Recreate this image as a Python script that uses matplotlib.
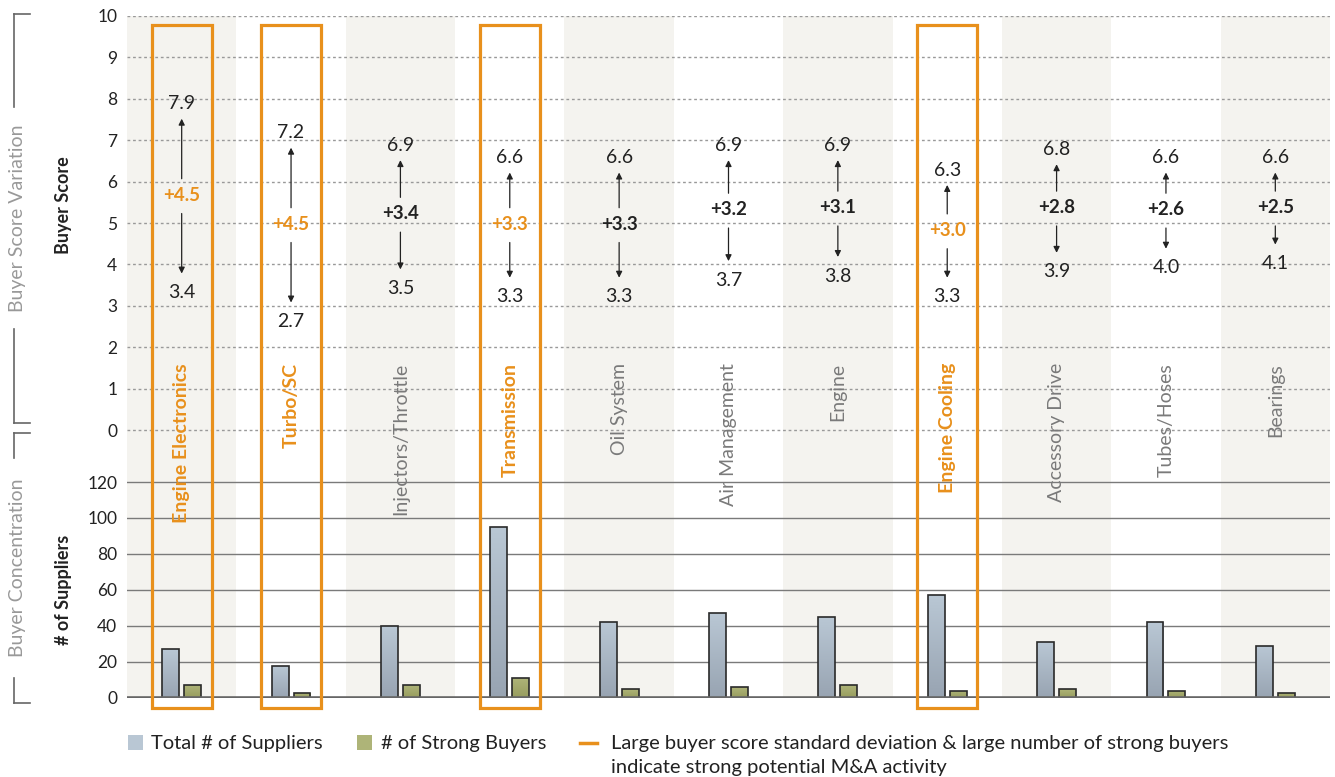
import numpy as np
import matplotlib
matplotlib.use("Agg")
import matplotlib.pyplot as plt
from matplotlib.patches import Rectangle
from matplotlib.lines import Line2D
from matplotlib.colors import LinearSegmentedColormap
import matplotlib.transforms as mtransforms

plt.rcParams['font.family'] = ['Lato', 'DejaVu Sans']

categories = ["Engine Electronics", "Turbo/SC", "Injectors/Throttle", "Transmission",
              "Oil System", "Air Management", "Engine", "Engine Cooling",
              "Accessory Drive", "Tubes/Hoses", "Bearings"]
highlighted = [True, True, False, True, False, False, False, True, False, False, False]

score_high = [7.9, 7.2, 6.9, 6.6, 6.6, 6.9, 6.9, 6.3, 6.8, 6.6, 6.6]
score_low = [3.4, 2.7, 3.5, 3.3, 3.3, 3.7, 3.8, 3.3, 3.9, 4.0, 4.1]
score_spread = ["+4.5", "+4.5", "+3.4", "+3.3", "+3.3", "+3.2", "+3.1", "+3.0", "+2.8", "+2.6", "+2.5"]

total_suppliers = [27, 18, 40, 95, 42, 47, 45, 57, 31, 42, 29]
strong_buyers = [7, 3, 7, 11, 5, 6, 7, 4, 5, 4, 3]

score_ticks = list(range(0, 11))
supplier_ticks = [0, 20, 40, 60, 80, 100, 120]

ORANGE = "#E8901C"
BAND = "#F4F3EF"
INK = "#222222"
W, H = 1335, 777


def fx(px):
    return px / W


def fy(py):
    return 1 - py / H


def gradient_fill(ax, bars, top_color, bottom_color):
    cmap = LinearSegmentedColormap.from_list("grad", [bottom_color, top_color])
    grad = np.linspace(0, 1, 64).reshape(-1, 1)
    for b in bars:
        x, y = b.get_xy()
        im = ax.imshow(grad, extent=[x, x + b.get_width(), y, y + b.get_height()],
                       origin="lower", aspect="auto", cmap=cmap, zorder=2.9)
        im.set_clip_path(b)


fig = plt.figure(figsize=(W / 100, H / 100), dpi=100)
ax_bot = fig.add_axes([fx(127), fy(698), fx(1330 - 127), (698 - 457) / H])
ax_top = fig.add_axes([fx(127), fy(457), fx(1330 - 127), (457 - 16) / H])
# score panel on top so the hanging category names stay visible
ax_top.set_zorder(2)
ax_top.patch.set_visible(False)

x = np.arange(len(categories))

for ax in (ax_top, ax_bot):
    ax.set_xlim(-0.5, len(categories) - 0.5)
    for i in x[::2]:
        ax.axvspan(i - 0.5, i + 0.5, color=BAND, lw=0, zorder=0)
    for s in ax.spines.values():
        s.set_visible(False)
    ax.set_xticks([])
    ax.tick_params(axis="y", length=0, pad=7, labelsize=12.5, labelcolor=INK)

# buyer score panel
ax_top.set_ylim(-0.65, 10)
ax_top.set_yticks(score_ticks)
for t in score_ticks:
    ax_top.axhline(t, color="#999999", lw=1, ls=(0, (2, 2)), zorder=1)

for i in x:
    hi, lo = score_high[i], score_low[i]
    mid = (hi + lo) / 2
    mid_color = ORANGE if highlighted[i] else INK
    ax_top.text(i, hi - 0.02, f"{hi:.1f}", ha="center", va="center", fontsize=14, color=INK, zorder=4)
    ax_top.text(i, lo - 0.08, f"{lo:.1f}", ha="center", va="center", fontsize=14, color=INK, zorder=4)
    ax_top.text(i, mid + 0.02, score_spread[i], ha="center", va="center", fontsize=13.5,
                fontweight="bold", color=mid_color, zorder=4)
    arrow = dict(arrowstyle="-|>", color=INK, lw=0.9, mutation_scale=9, shrinkA=0, shrinkB=0)
    ax_top.annotate("", xy=(i, hi - 0.38), xytext=(i, mid + 0.42), arrowprops=arrow, zorder=4)
    ax_top.annotate("", xy=(i, lo + 0.38), xytext=(i, mid - 0.42), arrowprops=arrow, zorder=4)

# supplier count panel
ax_bot.set_yticks(supplier_ticks)
for t in supplier_ticks[1:]:
    ax_bot.axhline(t, color="#7a7a7a", lw=1, zorder=1)
ax_bot.axhline(0, color="#666666", lw=2.6, zorder=5)

bw = 0.155
b1 = ax_bot.bar(x - 0.1, total_suppliers, width=bw, facecolor="none",
                edgecolor="#2a2a2a", lw=1.2, zorder=3)
b2 = ax_bot.bar(x + 0.1, strong_buyers, width=bw, facecolor="none",
                edgecolor="#2a2a2a", lw=1.2, zorder=3)
gradient_fill(ax_bot, b1, "#B9C7D4", "#98A4B2")
gradient_fill(ax_bot, b2, "#AEB478", "#979C5E")
ax_bot.set_xlim(-0.5, len(categories) - 0.5)
ax_bot.set_ylim(0, 241 / 1.8)

# category names hanging down from the score panel
for i in x:
    ax_top.text(i, (430 - 363) / 41.4, categories[i], rotation=90, ha="center", va="top",
                fontsize=14, color=ORANGE if highlighted[i] else "#7a7a7a",
                fontweight="bold" if highlighted[i] else "normal", zorder=6, clip_on=False)

# highlight frames spanning both panels
frame_tf = mtransforms.blended_transform_factory(ax_bot.transData, fig.transFigure)
for i in x:
    if highlighted[i]:
        fig.add_artist(Rectangle((i - 0.275, fy(708)), 0.55, fy(25) - fy(708), transform=frame_tf,
                                 fill=False, edgecolor=ORANGE, lw=2.3, zorder=10))

# axis titles and brackets
fig.text(fx(63), fy(205), "Buyer Score", rotation=90, ha="center", va="center",
         fontsize=13, fontweight="bold", color=INK)
fig.text(fx(63), fy(590), "# of Suppliers", rotation=90, ha="center", va="center",
         fontsize=13, fontweight="bold", color=INK)
fig.text(fx(18), fy(218), "Buyer Score Variation", rotation=90, ha="center", va="center",
         fontsize=14, color="#999999")
fig.text(fx(18), fy(568), "Buyer Concentration", rotation=90, ha="center", va="center",
         fontsize=14, color="#999999")

bracket = dict(color="#666666", lw=1.2, transform=fig.transFigure)
for (x0, y0, x1, y1) in [(30, 14, 14, 14), (14, 14, 14, 107), (14, 329, 14, 423), (14, 423, 30, 423),
                         (30, 433, 14, 433), (14, 433, 14, 458), (14, 678, 14, 703), (14, 703, 30, 703)]:
    fig.add_artist(Line2D([fx(x0), fx(x1)], [fy(y0), fy(y1)], **bracket))

# legend
fig.add_artist(Rectangle((fx(128), fy(750)), fx(15), 15 / H, transform=fig.transFigure,
                         facecolor="#B9C7D4", edgecolor="none"))
fig.text(fx(151), fy(743), "Total # of Suppliers", ha="left", va="center", fontsize=14.5, color=INK)
fig.add_artist(Rectangle((fx(357), fy(750)), fx(15), 15 / H, transform=fig.transFigure,
                         facecolor="#AEB478", edgecolor="none"))
fig.text(fx(381), fy(743), "# of Strong Buyers", ha="left", va="center", fontsize=14.5, color=INK)
fig.add_artist(Line2D([fx(580), fx(597)], [fy(743), fy(743)], color=ORANGE, lw=2.5,
                      transform=fig.transFigure))
fig.text(fx(611), fy(743), "Large buyer score standard deviation & large number of strong buyers",
         ha="left", va="center", fontsize=14.5, color=INK)
fig.text(fx(611), fy(767), "indicate strong potential M&A activity",
         ha="left", va="center", fontsize=14.5, color=INK)

fig.savefig("out.png", dpi=100, facecolor="white")
